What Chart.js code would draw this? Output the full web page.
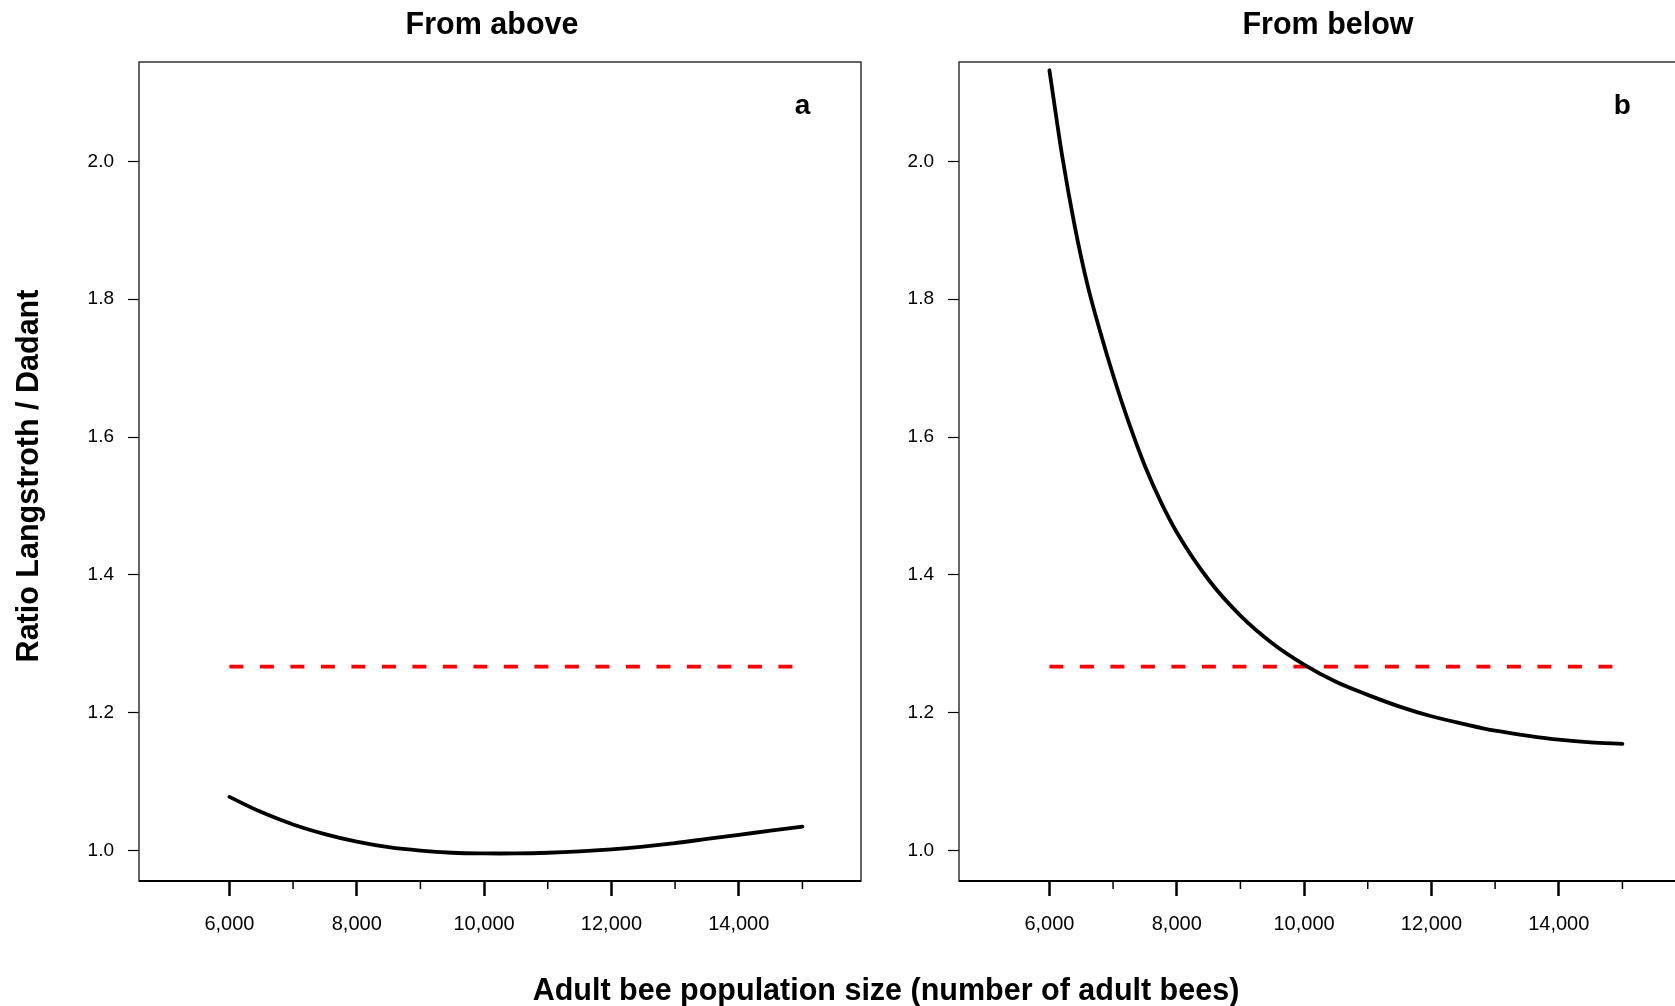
<!DOCTYPE html>
<html><head><meta charset="utf-8">
<script src="https://cdn.jsdelivr.net/npm/chart.js@4/dist/chart.umd.min.js"></script>
<style>
html,body{margin:0;padding:0;background:#fff;overflow:hidden;width:1675px;height:1006px;}
.c{position:absolute;top:0;}
.t{position:absolute;font:bold 30.5px "Liberation Sans",Arial,sans-serif;color:#000;white-space:nowrap;text-align:center;line-height:36px;}
</style></head><body>
<canvas id="ca" class="c" width="880" height="1006" style="left:0;width:880px;height:1006px"></canvas>
<canvas id="cb" class="c" width="820" height="1006" style="left:880px;width:820px;height:1006px"></canvas>
<div class="t" style="left:192px;width:600px;top:5px">From above</div>
<div class="t" style="left:1028px;width:600px;top:5px">From below</div>
<div class="t" style="left:486px;width:800px;top:971px">Adult bee population size (number of adult bees)</div>
<div id="ytitle" class="t" style="left:-273px;width:600px;top:458px;transform:rotate(-90deg);transform-origin:50% 50%"></div>
<script>
// ---- data ----
const popAbove = [6000, 6500, 7000, 7500, 8000, 8500, 9000, 9500, 10000, 10500, 11000, 11500, 12000, 12500, 13000, 13500, 14000, 14500, 15000];
const ratioAbove = [1.078, 1.056, 1.038, 1.024, 1.013, 1.005, 1.000, 0.997, 0.996, 0.996, 0.997, 0.999, 1.002, 1.006, 1.011, 1.017, 1.023, 1.029, 1.035];

const popBelow = [6000, 6200, 6400, 6600, 6800, 7000, 7250, 7500, 7750, 8000, 8500, 9000, 9500, 10000, 10500, 11000, 11500, 12000, 12500, 13000, 13500, 14000, 14500, 15000];
const ratioBelow = [2.132, 2.008, 1.905, 1.820, 1.752, 1.690, 1.620, 1.558, 1.506, 1.462, 1.393, 1.341, 1.301, 1.270, 1.245, 1.226, 1.209, 1.195, 1.184, 1.174, 1.167, 1.161, 1.157, 1.155];

const refPop = [6000, 15000];
const refRatio = [1.267, 1.267];

const xMajorTicks = [6000, 8000, 10000, 12000, 14000];
const xMinorTicks = [7000, 9000, 11000, 13000, 15000];
const yTicks = [1.0, 1.2, 1.4, 1.6, 1.8, 2.0];
const panelLetters = ['a', 'b'];
const yTitle = 'Ratio Langstroth / Dadant';

document.getElementById('ytitle').textContent = yTitle;

// ---- chart ----
const FAM = '"Liberation Sans", Arial, Helvetica, sans-serif';
Chart.defaults.font.family = FAM;
Chart.defaults.color = '#000';

const panelPlugin = {
  id: 'panelDeco',
  afterDraw(chart, args, opts) {
    const ctx = chart.ctx, ca = chart.chartArea;
    const xs = chart.scales.x, ys = chart.scales.y;
    ctx.save();
    ctx.strokeStyle = '#333';
    ctx.lineWidth = 1.5;
    ctx.strokeRect(ca.left, ca.top, ca.right - ca.left, ca.bottom - ca.top);
    ctx.strokeStyle = '#000';
    ctx.lineWidth = 2;
    ctx.beginPath();
    ctx.moveTo(ca.left, ca.bottom); ctx.lineTo(ca.right, ca.bottom);
    ctx.stroke();
    ctx.lineWidth = 1.5;
    xMinorTicks.forEach(v => {
      const px = xs.getPixelForValue(v);
      ctx.beginPath(); ctx.moveTo(px, ca.bottom); ctx.lineTo(px, ca.bottom + 8); ctx.stroke();
    });
    ctx.fillStyle = '#000';
    ctx.font = 'bold 28px ' + FAM;
    ctx.textAlign = 'center';
    ctx.textBaseline = 'middle';
    ctx.fillText(opts.letter, xs.getPixelForValue(15000), ys.getPixelForValue(2.08));
    ctx.restore();
  }
};

function makePanel(id, xs, ys, letter, yAxisW, rightPad, interp) {
  return new Chart(document.getElementById(id), {
    type: 'line',
    data: {
      datasets: [
        { data: xs.map((x, i) => ({x, y: ys[i]})), borderColor: '#000', borderWidth: 3.8,
          pointRadius: 0, tension: 0.4, cubicInterpolationMode: interp, borderCapStyle: 'round', borderJoinStyle: 'round', fill: false },
        { data: refPop.map((x, i) => ({x, y: refRatio[i]})), borderColor: '#ff0000', borderWidth: 3.8,
          pointRadius: 0, borderDash: [14, 16.5], borderCapStyle: 'butt', fill: false }
      ]
    },
    options: {
      responsive: false, animation: false,
      layout: { padding: { left: 0, right: rightPad, top: 62, bottom: 65 } },
      plugins: { legend: { display: false }, tooltip: { enabled: false }, panelDeco: { letter } },
      scales: {
        x: {
          type: 'linear', min: 4580, max: 15920,
          afterBuildTicks: s => { s.ticks = xMajorTicks.concat(xMinorTicks).sort((a, b) => a - b).map(v => ({value: v})); },
          afterFit: s => { s.height = 60; },
          ticks: { autoSkip: false, maxRotation: 0, minRotation: 0, padding: 16, font: { size: 20 }, color: '#000',
            callback: v => xMajorTicks.includes(v) ? v.toLocaleString('en-US') : '' },
          grid: { drawOnChartArea: false, drawTicks: true, tickLength: 15, tickWidth: 2.5,
            tickColor: c => (c.tick && xMajorTicks.includes(c.tick.value)) ? '#000' : 'rgba(0,0,0,0)' },
          border: { display: false }
        },
        y: {
          type: 'linear', min: 0.956, max: 2.144,
          afterBuildTicks: s => { s.ticks = yTicks.map(v => ({value: v})); },
          afterFit: s => { s.width = yAxisW; },
          ticks: { padding: 14, font: { size: 19 }, color: '#000', callback: v => Number(v).toFixed(1) },
          grid: { drawOnChartArea: false, drawTicks: true, tickLength: 11, tickWidth: 1.2, tickColor: '#000' },
          border: { display: false }
        }
      }
    },
    plugins: [panelPlugin]
  });
}

makePanel('ca', popAbove, ratioAbove, panelLetters[0], 139, 19, 'default');
makePanel('cb', popBelow, ratioBelow, panelLetters[1], 79, 19, 'monotone');
</script>
</body></html>
